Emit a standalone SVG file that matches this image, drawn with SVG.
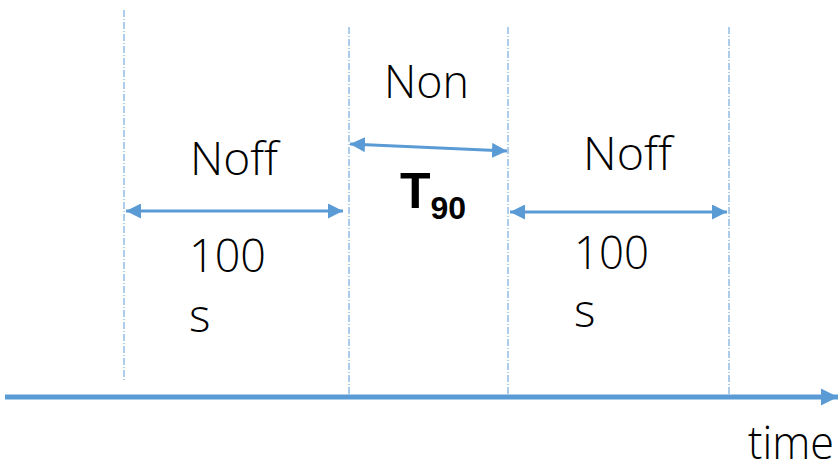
<svg xmlns="http://www.w3.org/2000/svg" width="840" height="465" viewBox="0 0 840 465">
<style>
.guide{stroke:#5b9bd5;stroke-width:1;stroke-dasharray:7 2 1 2;fill:none}
.conn{stroke:#5b9bd5;stroke-width:3;fill:none}
.axis{stroke:#5b9bd5;stroke-width:5;fill:none}
.lbl{font-family:"Open Sans","Noto Sans","Liberation Sans",sans-serif;font-weight:300;font-size:46px;fill:#000}
.bold{font-family:"Liberation Sans",Arial,sans-serif;font-weight:bold;fill:#000}
</style>
<defs>
<marker id="ah" viewBox="0 0 10 10" refX="10" refY="5" markerWidth="5" markerHeight="5" orient="auto-start-reverse" markerUnits="strokeWidth">
<path d="M0,0 L10,5 L0,10 Z" fill="#5b9bd5"/>
</marker>
<marker id="axh" viewBox="0 0 10 10" refX="10" refY="5" markerWidth="3.4" markerHeight="3.6" orient="auto" markerUnits="strokeWidth">
<path d="M0,0 L10,5 L0,10 Z" fill="#5b9bd5"/>
</marker>
</defs>
<g id="guides">
<line class="guide" x1="124" y1="10" x2="124" y2="380"/>
<line class="guide" x1="349" y1="27" x2="349" y2="395"/>
<line class="guide" x1="508" y1="27" x2="508" y2="395"/>
<line class="guide" x1="729" y1="27" x2="729" y2="395"/>
</g>
<g id="connectors">
<line class="conn" x1="126" y1="211" x2="343" y2="211" marker-start="url(#ah)" marker-end="url(#ah)"/>
<line class="conn" x1="350" y1="144" x2="507" y2="151" marker-start="url(#ah)" marker-end="url(#ah)"/>
<line class="conn" x1="510" y1="212" x2="727" y2="212" marker-start="url(#ah)" marker-end="url(#ah)"/>
<line class="axis" x1="5" y1="397" x2="838" y2="397" marker-end="url(#axh)"/>
</g>
<g id="noff-left">
<text class="lbl" x="190" y="175" textLength="88" lengthAdjust="spacingAndGlyphs">Noff</text>
<text class="lbl" x="189" y="272" textLength="77" lengthAdjust="spacingAndGlyphs">100</text>
<text class="lbl" x="189" y="332">s</text>
</g>
<g id="non">
<text class="lbl" x="384" y="98" textLength="85" lengthAdjust="spacingAndGlyphs">Non</text>
<text class="bold" x="400" y="208" font-size="50">T<tspan font-size="32" dy="11">90</tspan></text>
</g>
<g id="noff-right">
<text class="lbl" x="583" y="170" textLength="89" lengthAdjust="spacingAndGlyphs">Noff</text>
<text class="lbl" x="574" y="269" textLength="75" lengthAdjust="spacingAndGlyphs">100</text>
<text class="lbl" x="574" y="327">s</text>
</g>
<g id="time-label">
<text class="lbl" x="748" y="459" font-size="44" textLength="86" lengthAdjust="spacingAndGlyphs">time</text>
</g>
</svg>
